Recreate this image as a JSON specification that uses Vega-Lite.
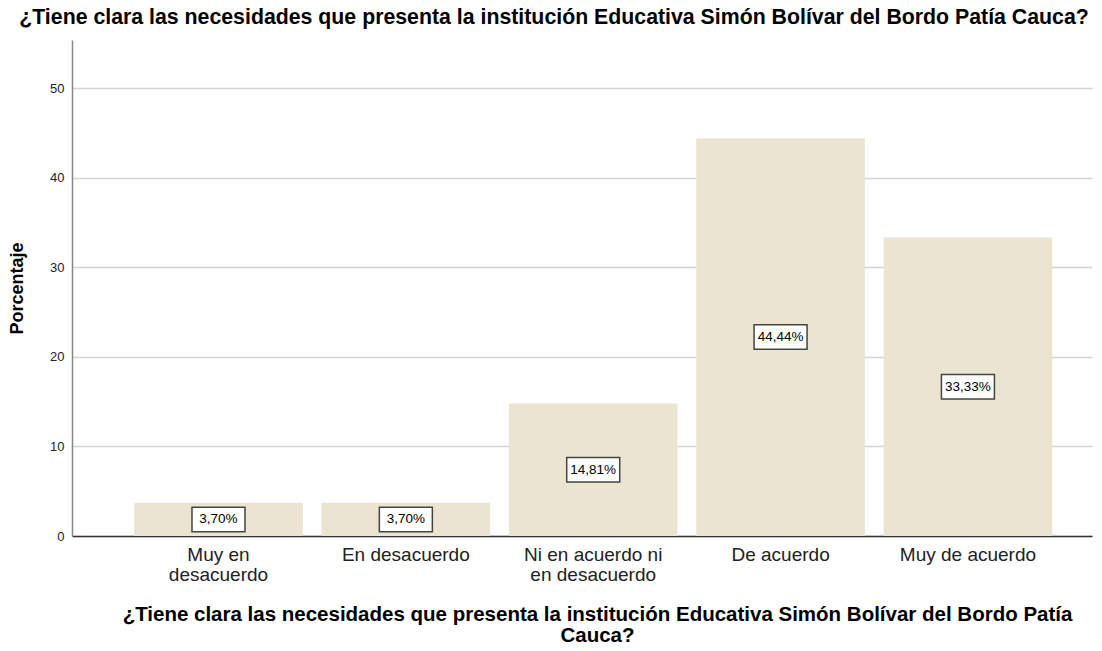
{
  "$schema": "https://vega.github.io/schema/vega-lite/v6.json",
  "width": 1020,
  "height": 496,
  "autosize": {"type": "none"},
  "padding": {"left": 72, "top": 40, "right": 10, "bottom": 115},
  "background": "white",
  "title": {
    "text": "¿Tiene clara las necesidades que presenta la institución Educativa Simón Bolívar del Bordo Patía Cauca?",
    "anchor": "middle",
    "frame": "group",
    "dx": -28,
    "offset": 12,
    "font": "Liberation Sans",
    "fontSize": 21.3,
    "fontWeight": "bold",
    "color": "#000000"
  },
  "data": {
    "values": [
      {"categoria": "Muy en desacuerdo", "porcentaje": 3.70, "etiqueta": "3,70%"},
      {"categoria": "En desacuerdo", "porcentaje": 3.70, "etiqueta": "3,70%"},
      {"categoria": "Ni en acuerdo ni en desacuerdo", "porcentaje": 14.81, "etiqueta": "14,81%"},
      {"categoria": "De acuerdo", "porcentaje": 44.44, "etiqueta": "44,44%"},
      {"categoria": "Muy de acuerdo", "porcentaje": 33.33, "etiqueta": "33,33%"}
    ]
  },
  "transform": [
    {"calculate": "datum.porcentaje / 2", "as": "centro"}
  ],
  "config": {
    "view": {"stroke": null},
    "font": "Liberation Sans"
  },
  "encoding": {
    "x": {
      "field": "categoria",
      "type": "nominal",
      "sort": null,
      "scale": {"paddingInner": 0.1, "paddingOuter": 0.272, "align": 0.61},
      "axis": {
        "title": ["¿Tiene clara las necesidades que presenta la institución Educativa Simón Bolívar del Bordo Patía", "Cauca?"],
        "titleFont": "Liberation Sans",
        "titleFontSize": 20.5,
        "titleFontWeight": "bold",
        "titleColor": "#000000",
        "titlePadding": 20,
        "titleLineHeight": 21.5,
        "titleX": 525,
        "labelAngle": 0,
        "labelFont": "Liberation Sans",
        "labelFontSize": 19,
        "labelColor": "#222222",
        "labelLineHeight": 20,
        "labelPadding": 9,
        "labelBaseline": "top",
        "labelExpr": "datum.value == 'Muy en desacuerdo' ? ['Muy en', 'desacuerdo'] : datum.value == 'Ni en acuerdo ni en desacuerdo' ? ['Ni en acuerdo ni', 'en desacuerdo'] : datum.value",
        "ticks": false,
        "domainColor": "#333333",
        "domainWidth": 1.5,
        "grid": false
      }
    }
  },
  "layer": [
    {
      "mark": {"type": "bar", "color": "#ebe4d1"},
      "encoding": {
        "y": {
          "field": "porcentaje",
          "type": "quantitative",
          "scale": {"domain": [0, 55.4], "nice": false},
          "axis": {
            "title": "Porcentaje",
            "titleFont": "Liberation Sans",
            "titleFontSize": 18,
            "titleFontWeight": "bold",
            "titleColor": "#000000",
            "titlePadding": 23,
            "values": [0, 10, 20, 30, 40, 50],
            "labelFont": "Liberation Sans",
            "labelFontSize": 13,
            "labelColor": "#222222",
            "labelPadding": 8,
            "ticks": false,
            "domainColor": "#888888",
            "domainWidth": 1.5,
            "gridColor": "#d4d4d4",
            "gridWidth": 1.5
          }
        }
      }
    },
    {
      "mark": {
        "type": "point",
        "shape": "M-1,-0.46L1,-0.46L1,0.46L-1,0.46Z",
        "size": 2809,
        "filled": true,
        "fill": "#ffffff",
        "stroke": "#444444",
        "strokeWidth": 1.5,
        "opacity": 1
      },
      "encoding": {
        "y": {"field": "centro", "type": "quantitative"}
      }
    },
    {
      "mark": {"type": "text", "font": "Liberation Sans", "fontSize": 13.5, "color": "#000000", "baseline": "middle", "align": "center"},
      "encoding": {
        "y": {"field": "centro", "type": "quantitative"},
        "text": {"field": "etiqueta"}
      }
    }
  ]
}
